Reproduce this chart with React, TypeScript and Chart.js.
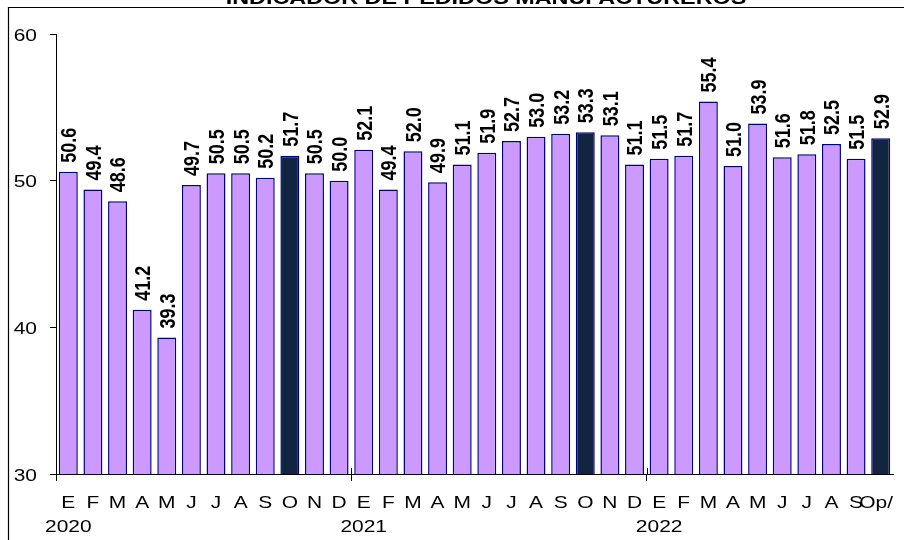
import { useEffect, useRef } from "react";
import { Chart, registerables } from "chart.js";

Chart.register(...registerables);

const TITLE = "INDICADOR DE PEDIDOS MANUFACTUREROS";

const monthLabels = [
  "E", "F", "M", "A", "M", "J", "J", "A", "S", "O", "N", "D",
  "E", "F", "M", "A", "M", "J", "J", "A", "S", "O", "N", "D",
  "E", "F", "M", "A", "M", "J", "J", "A", "S", "Op/",
];

const yearLabels = ["2020", "2021", "2022"];

const values = [
  50.6, 49.4, 48.6, 41.2, 39.3, 49.7, 50.5, 50.5, 50.2, 51.7, 50.5, 50.0,
  52.1, 49.4, 52.0, 49.9, 51.1, 51.9, 52.7, 53.0, 53.2, 53.3, 53.1, 51.1,
  51.5, 51.7, 55.4, 51.0, 53.9, 51.6, 51.8, 52.5, 51.5, 52.9,
];

const highlightIndexes = [9, 21, 33];

const yTicks = [30, 40, 50, 60];

const FONT = "'Liberation Sans', Arial, Helvetica, sans-serif";
const OFF = 20;
const SX = 1.23;
const LIGHT = "#CC99FF";
const DARK = "#122540";
const EDGE = "#000080";

export default function App() {
  const ref = useRef<HTMLCanvasElement>(null);

  useEffect(() => {
    document.body.style.margin = "0";
    const canvas = ref.current;
    if (!canvas) return;

    const labels = monthLabels.map((m, i) =>
      i % 12 === 0 ? [m, yearLabels[i / 12]] : m
    );

    const drawStretched = (
      c: CanvasRenderingContext2D,
      text: string,
      x: number,
      y: number,
      align: CanvasTextAlign
    ) => {
      c.save();
      c.translate(x, y);
      c.scale(SX, 1);
      c.textAlign = align;
      c.textBaseline = "alphabetic";
      c.fillText(text, 0, 0);
      c.restore();
    };

    const framePlugin = {
      id: "frame",
      beforeDraw(chart: any) {
        const c = chart.ctx;
        c.save();
        c.strokeStyle = "#000";
        c.lineWidth = 1.2;
        c.beginPath();
        c.moveTo(8.5, 2000);
        c.lineTo(8.5, 7.5 + OFF);
        c.lineTo(2000, 7.5 + OFF);
        c.stroke();
        c.font = `bold 19px ${FONT}`;
        c.fillStyle = "#000";
        drawStretched(c, TITLE, 486, 4 + OFF, "center");
        c.restore();
      },
    };

    const textPlugin = {
      id: "texts",
      afterDraw(chart: any) {
        const c = chart.ctx;
        const xs = chart.scales.x;
        const ys = chart.scales.y;
        const area = chart.chartArea;
        c.save();
        c.fillStyle = "#000";

        // bar value labels (rotated)
        c.font = `bold 18px ${FONT}`;
        const meta = chart.getDatasetMeta(0);
        const capH = 18 * 0.716;
        meta.data.forEach((el: any, i: number) => {
          const { x, y } = el.getProps(["x", "y"], true);
          c.save();
          c.translate(x + (capH * SX) / 2, y - 9);
          c.scale(SX, 1);
          c.rotate(-Math.PI / 2);
          c.textAlign = "left";
          c.textBaseline = "alphabetic";
          c.fillText(values[i].toFixed(1), 0, 0);
          c.restore();
        });

        // y tick labels
        c.font = `17px ${FONT}`;
        yTicks.forEach((v) => {
          const py = ys.getPixelForValue(v);
          drawStretched(c, String(v), 37, py + 6.5, "right");
        });

        // x tick labels
        monthLabels.forEach((m, i) => {
          let px = xs.getPixelForValue(i);
          const w = c.measureText(m).width * SX;
          if (px + w / 2 > area.right) px = area.right - w / 2;
          drawStretched(c, m, px, area.bottom + 34, "center");
          if (i % 12 === 0) {
            drawStretched(c, yearLabels[i / 12], xs.getPixelForValue(i), area.bottom + 58, "center");
          }
        });

        // cross part of year tick marks
        c.strokeStyle = "#000";
        c.lineWidth = 1;
        [12, 24].forEach((i) => {
          const px =
            Math.round((xs.getPixelForValue(i - 1) + xs.getPixelForValue(i)) / 2) + 0.5;
          c.beginPath();
          c.moveTo(px, area.bottom - 6);
          c.lineTo(px, area.bottom);
          c.stroke();
        });
        c.restore();
      },
    };

    const chart = new Chart(canvas, {
      type: "bar",
      data: {
        labels,
        datasets: [
          {
            data: values,
            backgroundColor: values.map((_, i) =>
              highlightIndexes.includes(i) ? DARK : LIGHT
            ),
            borderColor: EDGE,
            borderWidth: 1.5,
            categoryPercentage: 1,
            barPercentage: 0.77,
          },
        ],
      },
      options: {
        responsive: false,
        animation: false,
        layout: { padding: { top: 54, right: 11, bottom: 0, left: 0 } },
        plugins: {
          legend: { display: false },
          tooltip: { enabled: false },
          title: { display: false },
        },
        scales: {
          x: {
            offset: true,
            grid: {
              offset: true,
              drawOnChartArea: false,
              drawTicks: true,
              tickLength: 7,
              lineWidth: 1,
              color: (ctx: any) =>
                ctx.index % 12 === 0 && ctx.index < monthLabels.length
                  ? "#000"
                  : "rgba(0,0,0,0)",
            },
            border: { display: true, color: "#000", width: 1 },
            ticks: { display: false, autoSkip: false, maxRotation: 0 },
            afterFit: (s: any) => {
              s.height = 86;
              s.paddingLeft = 0;
              s.paddingRight = 0;
            },
          },
          y: {
            min: yTicks[0],
            max: yTicks[yTicks.length - 1],
            afterBuildTicks: (s: any) => {
              s.ticks = yTicks.map((v) => ({ value: v }));
            },
            ticks: { display: false },
            grid: {
              drawOnChartArea: false,
              drawTicks: true,
              tickLength: 6,
              color: "#000",
              lineWidth: 1,
            },
            border: { display: true, color: "#000", width: 1 },
            afterFit: (s: any) => {
              s.width = 56;
              s.paddingTop = 0;
              s.paddingBottom = 0;
            },
          },
        },
      },
      plugins: [framePlugin, textPlugin],
    });

    return () => {
      chart.destroy();
    };
  }, []);

  return (
    <div style={{ position: "relative", width: 904, height: 540, overflow: "hidden" }}>
      <canvas
        ref={ref}
        width={904}
        height={580}
        style={{ position: "absolute", left: 0, top: -OFF, width: 904, height: 580 }}
      />
    </div>
  );
}
